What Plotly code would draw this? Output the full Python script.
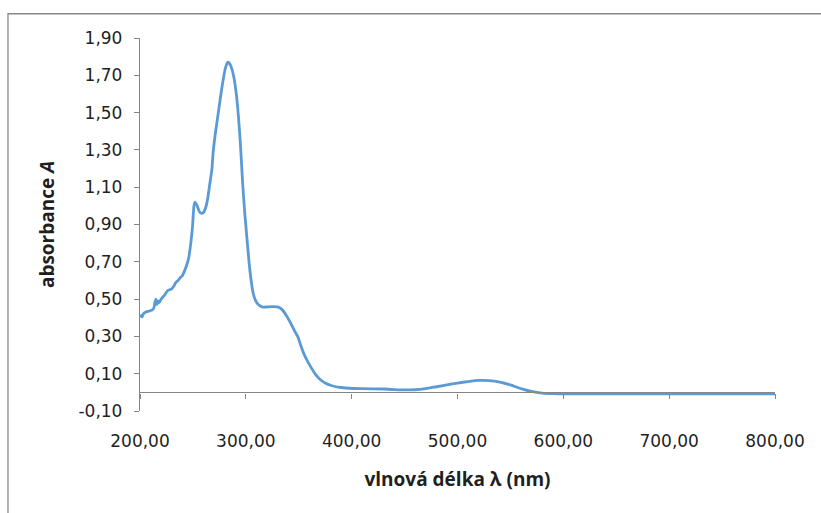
import plotly.graph_objects as go

# Absorption spectrum: wavelength (nm) and absorbance A
wavelength = [
    200, 202, 203, 205, 208, 211, 213, 214, 215, 216, 217, 218, 220, 223, 226,
    228, 230, 232, 234, 236, 238, 240, 242, 244, 246, 248, 249.5, 251, 252,
    254, 256, 258, 260, 262, 264, 266, 268, 269, 271, 274, 277, 279, 281, 283,
    285, 287, 289, 291, 293, 295, 297, 299, 301, 303, 305, 307, 309, 312, 316,
    320, 325, 330, 334, 338, 342, 346, 349, 352, 355, 358, 362, 366, 370, 375,
    380, 385, 390, 398, 410, 430, 440, 460, 470, 480, 490, 500, 510, 520, 530,
    540, 550, 560, 570, 580, 590, 600, 650, 700, 750, 800,
]
absorbance = [
    0.415, 0.405, 0.42, 0.43, 0.435, 0.44, 0.45, 0.48, 0.50, 0.47, 0.49, 0.48,
    0.50, 0.52, 0.545, 0.55, 0.555, 0.57, 0.59, 0.60, 0.615, 0.625, 0.65, 0.68,
    0.72, 0.80, 0.88, 1.00, 1.02, 1.00, 0.97, 0.96, 0.965, 0.99, 1.04, 1.12,
    1.20, 1.28, 1.38, 1.50, 1.62, 1.69, 1.745, 1.77, 1.76, 1.73, 1.68, 1.60,
    1.48, 1.32, 1.12, 0.96, 0.83, 0.70, 0.60, 0.53, 0.495, 0.47, 0.457, 0.458,
    0.46, 0.458, 0.445, 0.415, 0.375, 0.33, 0.30, 0.25, 0.205, 0.17, 0.13,
    0.095, 0.07, 0.05, 0.038, 0.03, 0.026, 0.022, 0.02, 0.018, 0.015, 0.014,
    0.02, 0.03, 0.04, 0.05, 0.058, 0.064, 0.063, 0.055, 0.04, 0.02, 0.005,
    -0.004, -0.007, -0.008, -0.008, -0.008, -0.008, -0.008,
]

x_range = [200, 800]
y_range = [-0.10, 1.90]
x_ticks = [200, 300, 400, 500, 600, 700, 800]
y_ticks = [-0.10, 0.10, 0.30, 0.50, 0.70, 0.90, 1.10, 1.30, 1.50, 1.70, 1.90]


def decimal_comma(v):
    return f"{v:.2f}".replace(".", ",")


TICK_FONT = "DejaVu Sans"
TITLE_FONT = "Open Sans"
AXIS_GREY = "#868686"
TEXT = "#1f1f1f"

fig = go.Figure()
fig.add_trace(go.Scatter(
    x=wavelength, y=absorbance, mode="lines",
    line=dict(color="#5B9BD5", width=2.8, shape="spline", smoothing=0.5),
    xaxis="x", yaxis="y", showlegend=False, hoverinfo="x+y",
))
# empty trace so the axis line crossing at A = 0 gets rendered
fig.add_trace(go.Scatter(
    x=x_range, y=[None, None], mode="lines", xaxis="x2", yaxis="y",
    showlegend=False, hoverinfo="skip",
))

fig.update_layout(
    width=821, height=513,
    margin=dict(l=140, r=46, t=38, b=102),
    paper_bgcolor="white", plot_bgcolor="white",
    font=dict(family=TICK_FONT, color=TEXT, size=17),
    # bottom axis: labels and title only
    xaxis=dict(
        range=x_range, tickvals=x_ticks,
        ticktext=[decimal_comma(v) for v in x_ticks],
        showline=False, showgrid=False, zeroline=False, ticks="",
        ticklabelstandoff=18,
        tickfont=dict(family=TICK_FONT, size=17, color=TEXT),
        title=dict(text="<b>vlnová délka λ (nm)</b>",
                   font=dict(family=TITLE_FONT, size=19, color=TEXT),
                   standoff=22),
    ),
    # axis line crossing at A = 0 with its tick marks
    xaxis2=dict(
        range=x_range, tickvals=x_ticks, overlaying="x", anchor="free",
        position=(0 - y_range[0]) / (y_range[1] - y_range[0]),
        showline=True, linecolor=AXIS_GREY, linewidth=1.3,
        ticks="outside", ticklen=5, tickcolor=AXIS_GREY, tickwidth=1.3,
        showticklabels=False, showgrid=False, zeroline=False,
    ),
    yaxis=dict(
        range=y_range, tickvals=y_ticks,
        ticktext=[decimal_comma(v) for v in y_ticks],
        showline=True, linecolor=AXIS_GREY, linewidth=1.3,
        ticks="outside", ticklen=5, tickcolor=AXIS_GREY, tickwidth=1.3,
        showgrid=False, zeroline=False,
        ticklabelstandoff=8,
        tickfont=dict(family=TICK_FONT, size=17, color=TEXT),
        title=dict(text="<b>absorbance <i>A</i></b>",
                   font=dict(family=TITLE_FONT, size=19, color=TEXT),
                   standoff=18),
    ),
    shapes=[dict(
        type="rect", xref="paper", yref="paper",
        x0=-0.2079, x1=1.1, y0=-0.3, y1=1.065,
        line=dict(color="#8a8a8a", width=1.3), fillcolor="rgba(0,0,0,0)",
        layer="below",
    )],
)

fig.write_html("out.html")
